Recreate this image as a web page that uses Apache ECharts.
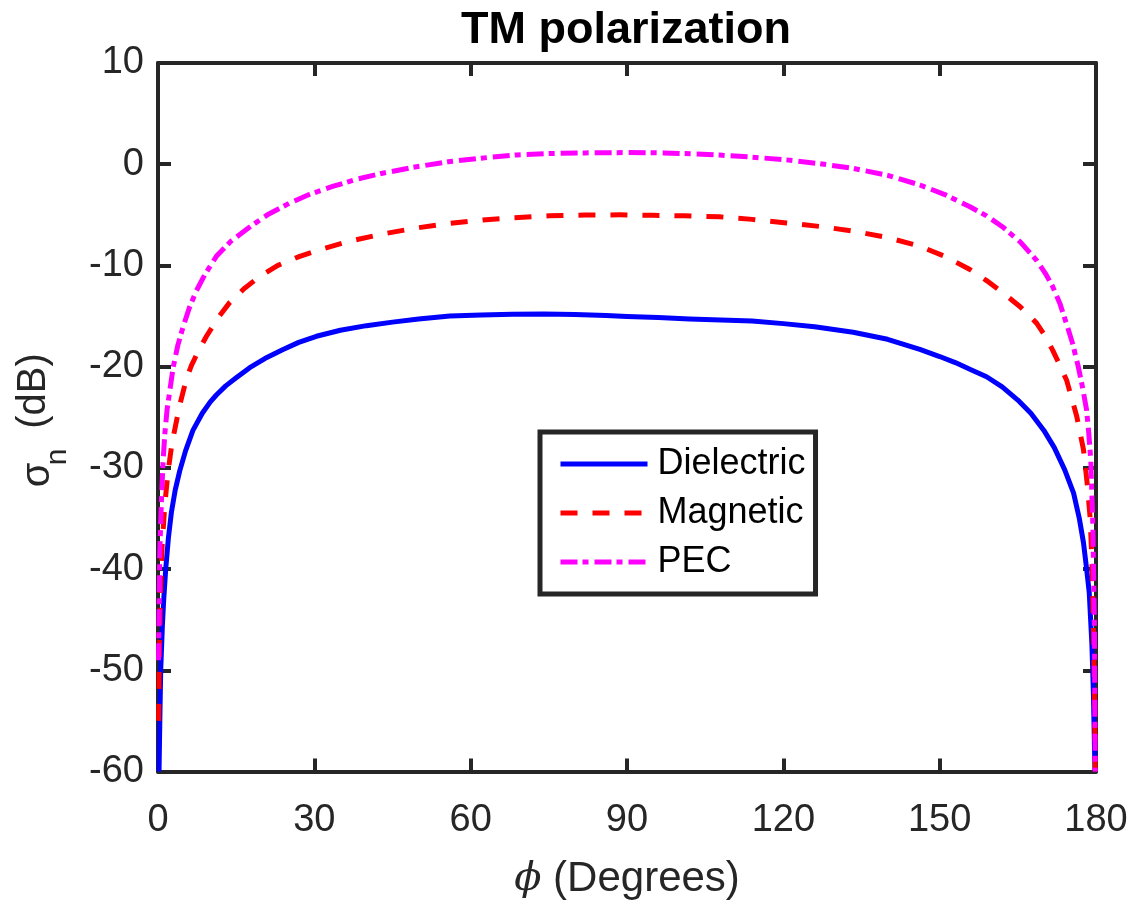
<!DOCTYPE html>
<html>
<head>
<meta charset="utf-8">
<script src="https://cdn.jsdelivr.net/npm/echarts@6/dist/echarts.min.js"></script>
<style>
  html, body { margin: 0; padding: 0; background: #ffffff; }
  #chart { width: 1135px; height: 903px; }
</style>
</head>
<body>
<div id="chart"></div>
<script>
// Normalised scattering width versus incidence angle, TM polarisation
const seriesNames = ['Dielectric', 'Magnetic', 'PEC'];
const xTicks = [0, 30, 60, 90, 120, 150, 180];
const yTicks = [-60, -50, -40, -30, -20, -10, 0, 10];

const dielectricPhi = [0.2, 0.35, 0.52, 0.84, 1.1, 1.48, 2, 2.57, 3.3, 4.17, 5.3, 6.7, 8.5, 10, 11.2, 13, 15, 17.6, 20.5, 24, 27, 30.4, 35, 40, 45, 50, 56, 62, 68, 74, 80, 86, 90, 96, 102, 108, 114, 120, 126, 133.4, 140, 146.2, 150, 153, 156, 159, 162, 165, 167.5, 170, 172, 174, 175.7, 176.8, 177.6, 178.2, 178.7, 179.2, 179.5, 179.8];
const dielectricDb = [-60, -55, -50, -45.6, -43, -40, -36.9, -34.4, -32.2, -30.3, -28.3, -26.3, -24.6, -23.5, -22.8, -21.9, -21.1, -20.1, -19.2, -18.3, -17.6, -17.0, -16.4, -15.95, -15.6, -15.3, -15.0, -14.9, -14.82, -14.8, -14.85, -14.95, -15.05, -15.15, -15.3, -15.4, -15.5, -15.75, -16.05, -16.6, -17.3, -18.3, -19.0, -19.6, -20.3, -21.0, -22.0, -23.3, -24.6, -26.3, -28.0, -30.2, -32.5, -35, -37.4, -40, -42.3, -47.3, -52.2, -60];

const magneticPhi = [0.12, 0.2, 0.3, 0.45, 0.8, 1.3, 1.9, 2.7, 4.17, 5.45, 6.4, 7.8, 9.3, 11.5, 13.7, 16.5, 19.5, 23, 27.2, 32, 36.8, 43, 49.6, 56, 62.3, 68, 75, 82, 88.6, 95, 101, 107.8, 114, 120.6, 127, 133.4, 140, 146.2, 151, 155.8, 159, 162.1, 165.5, 168.6, 170.3, 171.7, 173.1, 174.4, 176.3, 177.6, 178.3, 178.9, 179.2, 179.5, 179.7, 179.85];
const magneticDb = [-55, -51, -47, -42.6, -37.6, -33.7, -30.5, -27.5, -23.8, -21.2, -19.9, -18.4, -17.0, -15.2, -13.7, -12.3, -11.1, -10.0, -9.1, -8.3, -7.6, -6.9, -6.3, -5.85, -5.5, -5.3, -5.1, -5.02, -5.0, -5.05, -5.1, -5.2, -5.45, -5.8, -6.15, -6.6, -7.25, -8.1, -9.1, -10.4, -11.5, -12.7, -14.1, -15.7, -17.0, -18.4, -19.9, -21.4, -24.9, -28.2, -31.5, -35.1, -39.1, -45.6, -52, -60];

const pecPhi = [0.1, 0.33, 0.65, 0.96, 1.3, 1.73, 2.9, 3.8, 4.8, 6, 7.37, 9, 11.2, 14, 17.6, 21, 25.2, 29, 33.5, 38, 43.1, 49, 56, 62, 68.8, 75, 82, 90, 97, 103, 107.8, 114, 120.6, 127, 133.3, 140, 146.2, 151, 155.8, 159, 162.1, 165.5, 168.6, 170.3, 171.7, 173.1, 174.3, 175.5, 176.6, 177.4, 178.2, 178.6, 179.0, 179.4, 179.7, 179.85];
const pecDb = [-49, -38.5, -33.3, -29.5, -26.7, -24.3, -20.1, -17.9, -16.1, -14.2, -12.5, -10.9, -9.1, -7.6, -6.2, -5.0, -3.85, -3.0, -2.2, -1.5, -0.89, -0.3, 0.26, 0.6, 0.92, 1.05, 1.12, 1.15, 1.12, 1.02, 0.9, 0.7, 0.43, 0.05, -0.4, -1.1, -2.05, -3.0, -4.2, -5.1, -6.2, -7.7, -9.5, -10.8, -12.1, -13.8, -15.7, -17.7, -20, -22, -24.3, -26.5, -29.2, -35.8, -45.6, -60];

const zip = (xs, ys) => xs.map((x, i) => [x, ys[i]]);

const axisColor = '#262626';
const sans = '"Liberation Sans", Arial, Helvetica, sans-serif';

function frameAxis(extra) {
  return Object.assign({
    type: 'value',
    axisLine: { show: true, onZero: false, lineStyle: { color: axisColor, width: 4 } },
    axisTick: { show: true, inside: true, length: 13, lineStyle: { color: axisColor, width: 4 } },
    splitLine: { show: false }
  }, extra);
}

function lineSeries(name, color, dash, phi, db) {
  return {
    name: name, type: 'line', symbol: 'none', showSymbol: false, clip: true,
    lineStyle: { color: color, width: 5, type: dash, join: 'round' },
    itemStyle: { color: color },
    data: zip(phi, db)
  };
}

const chart = echarts.init(document.getElementById('chart'), null, { renderer: 'canvas' });

chart.setOption({
  animation: false,
  backgroundColor: '#ffffff',
  title: {
    text: 'TM polarization',
    left: 621,
    textAlign: 'center',
    top: 3,
    textStyle: { fontFamily: sans, fontSize: 45, fontWeight: 'bold', color: '#000000' }
  },
  grid: { left: 158, right: 39, top: 63, bottom: 131.5, containLabel: false, outerBoundsMode: 'none' },
  legend: {
    orient: 'vertical',
    left: 540,
    top: 432,
    itemWidth: 87,
    itemHeight: 14,
    itemGap: 13,
    padding: [14, 10, 14, 18],
    backgroundColor: '#ffffff',
    borderColor: axisColor,
    borderWidth: 5,
    borderRadius: 0,
    itemStyle: { opacity: 0 },
    lineStyle: { width: 5 },
    textStyle: { fontFamily: sans, fontSize: 36, color: '#000000', padding: [0, 0, 0, 5] },
    data: seriesNames
  },
  graphic: [
    {
      type: 'text', x: 34, y: 391, rotation: Math.PI / 2, silent: true,
      style: { text: '(dB)', font: '40px ' + sans, fill: axisColor, align: 'center', verticalAlign: 'middle' }
    },
    {
      type: 'text', x: 38, y: 475, rotation: Math.PI / 2, silent: true,
      style: { text: 'σ', font: '40px ' + sans, fill: axisColor, align: 'center', verticalAlign: 'middle' }
    },
    {
      type: 'text', x: 58, y: 457, rotation: Math.PI / 2, silent: true,
      style: { text: 'n', font: '30px ' + sans, fill: axisColor, align: 'center', verticalAlign: 'middle' }
    }
  ],
  xAxis: [
    frameAxis({
      min: xTicks[0], max: xTicks[xTicks.length - 1], interval: 30,
      position: 'bottom',
      axisLabel: { show: true, fontFamily: sans, fontSize: 38, color: axisColor, margin: 30 },
      name: '{p|ϕ} (Degrees)',
      nameLocation: 'middle',
      nameGap: 87,
      nameTextStyle: {
        fontFamily: sans, fontSize: 42, color: axisColor,
        rich: { p: { fontFamily: '"DejaVu Serif", "Liberation Serif", serif', fontStyle: 'italic', fontSize: 40, color: axisColor } }
      }
    }),
    frameAxis({
      min: xTicks[0], max: xTicks[xTicks.length - 1], interval: 30,
      position: 'top',
      axisLabel: { show: false }
    })
  ],
  yAxis: [
    frameAxis({
      min: yTicks[0], max: yTicks[yTicks.length - 1], interval: 10,
      position: 'left',
      axisLabel: { show: true, fontFamily: sans, fontSize: 38, color: axisColor, margin: 14 }
    }),
    frameAxis({
      min: yTicks[0], max: yTicks[yTicks.length - 1], interval: 10,
      position: 'right',
      axisLabel: { show: false }
    })
  ],
  series: [
    lineSeries(seriesNames[0], '#0000ff', 'solid', dielectricPhi, dielectricDb),
    lineSeries(seriesNames[1], '#ff0000', [17, 15], magneticPhi, magneticDb),
    lineSeries(seriesNames[2], '#ff00ff', [17, 5, 6, 6], pecPhi, pecDb)
  ]
});
</script>
</body>
</html>
